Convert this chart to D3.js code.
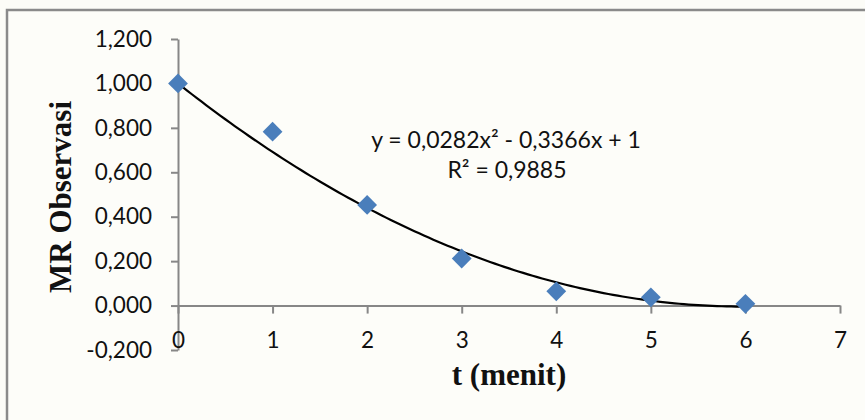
<!DOCTYPE html>
<html><head><meta charset="utf-8">
<script src="https://cdn.jsdelivr.net/npm/d3@7"></script>
<style>html,body{margin:0;padding:0;background:#fcfcf7;}svg{display:block;}</style>
</head><body>
<svg id="c" width="865" height="420"></svg>
<script>
const tValues = [0, 1, 2, 3, 4, 5, 6];
const mrValues = [1.0, 0.783, 0.453, 0.212, 0.064, 0.037, 0.008];
const yTicks = [-0.2, 0, 0.2, 0.4, 0.6, 0.8, 1.0, 1.2];
const xTicks = [0, 1, 2, 3, 4, 5, 6, 7];
const trendCoef = [0.0282, -0.3366, 1]; // a, b, c
const eqText = "y = 0,0282x² - 0,3366x + 1";
const r2Text = "R² = 0,9885";
const xTitle = "t (menit)";
const yTitle = "MR Observasi";

const svg = d3.select("#c");
svg.append("rect").attr("x",0).attr("y",0).attr("width",865).attr("height",420).attr("fill","#fcfcf7");
svg.append("rect").attr("x",7).attr("y",10).attr("width",900).attr("height",450)
  .attr("fill","#fdfdf9").attr("stroke","#8a8a8a").attr("stroke-width",2.5);

const x = d3.scaleLinear().domain([0,7]).range([178,840]);
const y = d3.scaleLinear().domain([-0.2,1.2]).range([350,39]);
const yLab = v => (v<0?"-":"") + Math.abs(v).toFixed(3).replace(".", ",");

// y axis
const yAxis = svg.append("g").attr("transform",`translate(${x(0)},0)`)
  .call(d3.axisLeft(y).tickValues(yTicks).tickSize(7).tickSizeOuter(0).tickPadding(19).tickFormat(yLab));
yAxis.select(".domain").attr("stroke","#878787").attr("stroke-width",2);
yAxis.selectAll(".tick line").attr("stroke","#878787").attr("stroke-width",2);
yAxis.selectAll("text").attr("font-family","Lato").attr("font-size",22.5).attr("fill","#111");

// x axis
const xAxis = svg.append("g").attr("transform",`translate(0,${y(0)})`)
  .call(d3.axisBottom(x).tickValues(xTicks).tickSize(8).tickSizeOuter(0).tickPadding(18).tickFormat(d3.format("d")));
xAxis.select(".domain").attr("stroke","#878787").attr("stroke-width",2);
xAxis.selectAll(".tick line").attr("stroke","#878787").attr("stroke-width",2);
xAxis.selectAll("text").attr("font-family","Lato").attr("font-size",22.5).attr("fill","#111");

// trendline
const trend = d3.range(0, 6.0001, 0.05).map(t => [t, trendCoef[0]*t*t + trendCoef[1]*t + trendCoef[2]]);
svg.append("path").datum(trend)
  .attr("d", d3.line().x(d=>x(d[0])).y(d=>y(d[1])))
  .attr("fill","none").attr("stroke","#000").attr("stroke-width",2.2);

// markers
svg.append("g").selectAll("path").data(tValues).join("path")
  .attr("transform",(d,i)=>`translate(${x(d)},${y(mrValues[i])}) rotate(45)`)
  .attr("d","M-7,-7H7V7H-7Z")
  .attr("fill","#4a7ebb");

// equation
svg.append("text").attr("x",506).attr("y",148).attr("text-anchor","middle")
  .attr("font-family","Lato").attr("font-size",23).attr("fill","#111").text(eqText);
svg.append("text").attr("x",507).attr("y",178).attr("text-anchor","middle")
  .attr("font-family","Lato").attr("font-size",23).attr("fill","#111").text(r2Text);

// titles
svg.append("text").attr("x",509).attr("y",385).attr("text-anchor","middle")
  .attr("font-family","Liberation Serif").attr("font-weight","bold").attr("font-size",31).attr("fill","#111").text(xTitle);
svg.append("text").attr("transform","translate(71,197) rotate(-90)").attr("text-anchor","middle")
  .attr("font-family","Liberation Serif").attr("font-weight","bold").attr("font-size",31).attr("fill","#111").text(yTitle);
</script>
</body></html>
